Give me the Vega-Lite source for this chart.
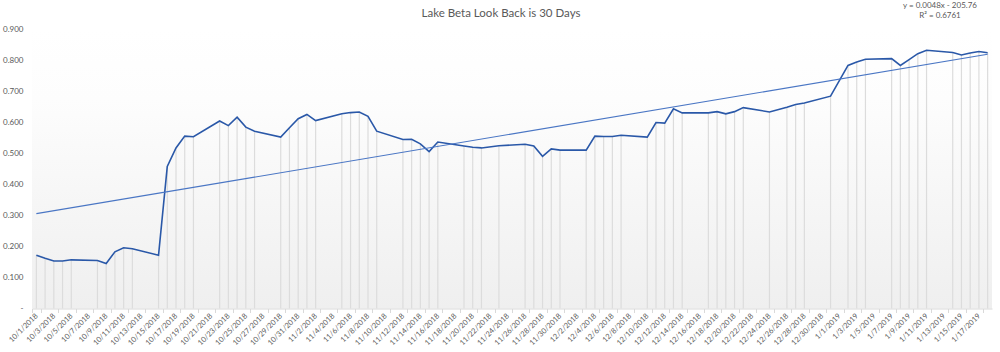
{
  "$schema": "https://vega.github.io/schema/vega-lite/v6.json",
  "autosize": "none",
  "width": 960,
  "height": 279,
  "padding": {"left": 32, "top": 29.5, "right": 8, "bottom": 43.5},
  "title": {"text": "Lake Beta Look Back is 30 Days", "fontSize": 11.5, "fontWeight": "normal", "color": "#595959", "font": "Lato", "anchor": "middle", "frame": "group", "offset": -17, "dx": -11},
  "config": {
    "font": "Lato",
    "view": {"stroke": null, "fill": {"gradient": "linear", "x1": 0, "y1": 0, "x2": 0, "y2": 1, "stops": [{"offset": 0, "color": "#ffffff"}, {"offset": 0.25, "color": "#fdfdfd"}, {"offset": 1, "color": "#efefef"}]}}
  },
  "datasets": {
    "beta": [
      {"date": "10/1/2018", "value": 0.172}, {"date": "10/2/2018", "value": 0.162}, {"date": "10/3/2018", "value": 0.153}, {"date": "10/4/2018", "value": 0.153}, {"date": "10/5/2018", "value": 0.157},
      {"date": "10/8/2018", "value": 0.155}, {"date": "10/9/2018", "value": 0.145}, {"date": "10/10/2018", "value": 0.183}, {"date": "10/11/2018", "value": 0.196}, {"date": "10/12/2018", "value": 0.193},
      {"date": "10/15/2018", "value": 0.172}, {"date": "10/16/2018", "value": 0.458}, {"date": "10/17/2018", "value": 0.518}, {"date": "10/18/2018", "value": 0.556}, {"date": "10/19/2018", "value": 0.554},
      {"date": "10/22/2018", "value": 0.605}, {"date": "10/23/2018", "value": 0.590}, {"date": "10/24/2018", "value": 0.617}, {"date": "10/25/2018", "value": 0.585}, {"date": "10/26/2018", "value": 0.572},
      {"date": "10/29/2018", "value": 0.553}, {"date": "10/30/2018", "value": 0.583}, {"date": "10/31/2018", "value": 0.612}, {"date": "11/1/2018", "value": 0.626}, {"date": "11/2/2018", "value": 0.606},
      {"date": "11/5/2018", "value": 0.628}, {"date": "11/6/2018", "value": 0.632}, {"date": "11/7/2018", "value": 0.634}, {"date": "11/8/2018", "value": 0.620}, {"date": "11/9/2018", "value": 0.572},
      {"date": "11/12/2018", "value": 0.545}, {"date": "11/13/2018", "value": 0.546}, {"date": "11/14/2018", "value": 0.531}, {"date": "11/15/2018", "value": 0.506}, {"date": "11/16/2018", "value": 0.537},
      {"date": "11/19/2018", "value": 0.524}, {"date": "11/20/2018", "value": 0.520}, {"date": "11/21/2018", "value": 0.518}, {"date": "11/23/2018", "value": 0.525},
      {"date": "11/26/2018", "value": 0.530}, {"date": "11/27/2018", "value": 0.524}, {"date": "11/28/2018", "value": 0.491}, {"date": "11/29/2018", "value": 0.515}, {"date": "11/30/2018", "value": 0.511},
      {"date": "12/3/2018", "value": 0.511}, {"date": "12/4/2018", "value": 0.556}, {"date": "12/5/2018", "value": 0.555}, {"date": "12/6/2018", "value": 0.555}, {"date": "12/7/2018", "value": 0.559},
      {"date": "12/10/2018", "value": 0.553}, {"date": "12/11/2018", "value": 0.600}, {"date": "12/12/2018", "value": 0.598}, {"date": "12/13/2018", "value": 0.644}, {"date": "12/14/2018", "value": 0.631},
      {"date": "12/17/2018", "value": 0.631}, {"date": "12/18/2018", "value": 0.635}, {"date": "12/19/2018", "value": 0.628}, {"date": "12/20/2018", "value": 0.635}, {"date": "12/21/2018", "value": 0.648},
      {"date": "12/24/2018", "value": 0.634}, {"date": "12/26/2018", "value": 0.649}, {"date": "12/27/2018", "value": 0.658}, {"date": "12/28/2018", "value": 0.663},
      {"date": "12/31/2018", "value": 0.685}, {"date": "1/2/2019", "value": 0.784}, {"date": "1/3/2019", "value": 0.795}, {"date": "1/4/2019", "value": 0.804},
      {"date": "1/7/2019", "value": 0.806}, {"date": "1/8/2019", "value": 0.784}, {"date": "1/9/2019", "value": 0.803}, {"date": "1/10/2019", "value": 0.822}, {"date": "1/11/2019", "value": 0.833},
      {"date": "1/14/2019", "value": 0.826}, {"date": "1/15/2019", "value": 0.818}, {"date": "1/16/2019", "value": 0.824}, {"date": "1/17/2019", "value": 0.829}, {"date": "1/18/2019", "value": 0.825}
    ],
    "trend": [
      {"date": "10/1/2018", "value": 0.306},
      {"date": "1/18/2019", "value": 0.820}
    ],
    "note": [
      {"date": "1/13/2019", "value": 0.975, "label": "y = 0.0048x - 205.76\nR² = 0.6761"}
    ]
  },
  "encoding": {
    "x": {
      "field": "date",
      "type": "ordinal",
      "scale": {
        "type": "band",
        "paddingInner": 0,
        "paddingOuter": 0,
        "domain": [
          "10/1/2018","10/2/2018","10/3/2018","10/4/2018","10/5/2018","10/6/2018","10/7/2018","10/8/2018","10/9/2018","10/10/2018",
          "10/11/2018","10/12/2018","10/13/2018","10/14/2018","10/15/2018","10/16/2018","10/17/2018","10/18/2018","10/19/2018","10/20/2018",
          "10/21/2018","10/22/2018","10/23/2018","10/24/2018","10/25/2018","10/26/2018","10/27/2018","10/28/2018","10/29/2018","10/30/2018","10/31/2018",
          "11/1/2018","11/2/2018","11/3/2018","11/4/2018","11/5/2018","11/6/2018","11/7/2018","11/8/2018","11/9/2018","11/10/2018",
          "11/11/2018","11/12/2018","11/13/2018","11/14/2018","11/15/2018","11/16/2018","11/17/2018","11/18/2018","11/19/2018","11/20/2018",
          "11/21/2018","11/22/2018","11/23/2018","11/24/2018","11/25/2018","11/26/2018","11/27/2018","11/28/2018","11/29/2018","11/30/2018",
          "12/1/2018","12/2/2018","12/3/2018","12/4/2018","12/5/2018","12/6/2018","12/7/2018","12/8/2018","12/9/2018","12/10/2018",
          "12/11/2018","12/12/2018","12/13/2018","12/14/2018","12/15/2018","12/16/2018","12/17/2018","12/18/2018","12/19/2018","12/20/2018",
          "12/21/2018","12/22/2018","12/23/2018","12/24/2018","12/25/2018","12/26/2018","12/27/2018","12/28/2018","12/29/2018","12/30/2018","12/31/2018",
          "1/1/2019","1/2/2019","1/3/2019","1/4/2019","1/5/2019","1/6/2019","1/7/2019","1/8/2019","1/9/2019","1/10/2019",
          "1/11/2019","1/12/2019","1/13/2019","1/14/2019","1/15/2019","1/16/2019","1/17/2019","1/18/2019"
        ]
      },
      "axis": {
        "title": null,
        "values": [
          "10/1/2018","10/3/2018","10/5/2018","10/7/2018","10/9/2018","10/11/2018","10/13/2018","10/15/2018","10/17/2018","10/19/2018",
          "10/21/2018","10/23/2018","10/25/2018","10/27/2018","10/29/2018","10/31/2018",
          "11/2/2018","11/4/2018","11/6/2018","11/8/2018","11/10/2018","11/12/2018","11/14/2018","11/16/2018","11/18/2018","11/20/2018",
          "11/22/2018","11/24/2018","11/26/2018","11/28/2018","11/30/2018",
          "12/2/2018","12/4/2018","12/6/2018","12/8/2018","12/10/2018","12/12/2018","12/14/2018","12/16/2018","12/18/2018","12/20/2018",
          "12/22/2018","12/24/2018","12/26/2018","12/28/2018","12/30/2018",
          "1/1/2019","1/3/2019","1/5/2019","1/7/2019","1/9/2019","1/11/2019","1/13/2019","1/15/2019","1/17/2019"
        ],
        "tickBand": "extent",
        "labelAngle": -45,
        "labelAlign": "right",
        "labelBaseline": "middle",
        "labelFontSize": 7.5,
        "labelColor": "#595959",
        "labelPadding": 2,
        "labelOverlap": false,
        "tickSize": 4,
        "tickColor": "#d9d9d9",
        "domainColor": "#d9d9d9",
        "grid": false
      }
    },
    "y": {
      "field": "value",
      "type": "quantitative",
      "scale": {"domain": [0, 0.9], "nice": false, "zero": true},
      "axis": {
        "title": null,
        "values": [0, 0.1, 0.2, 0.3, 0.4, 0.5, 0.6, 0.7, 0.8, 0.9],
        "labelExpr": "datum.value == 0 ? '-\u00a0\u00a0' : format(datum.value, '.3f')",
        "labelOverlap": false,
        "labelFlush": false,
        "domain": false,
        "ticks": false,
        "grid": false,
        "labelFontSize": 8,
        "labelColor": "#595959",
        "labelPadding": 9
      }
    }
  },
  "layer": [
    {
      "data": {"name": "beta"},
      "mark": {"type": "rule", "color": "#dcdcdc", "strokeWidth": 1.2},
      "encoding": {
        "y2": {"datum": 0}
      }
    },
    {
      "data": {"name": "beta"},
      "mark": {"type": "line", "color": "#2a58a8", "strokeWidth": 1.6},
      "encoding": {}
    },
    {
      "data": {"name": "trend"},
      "mark": {"type": "line", "color": "#4a76c4", "strokeWidth": 1.1},
      "encoding": {}
    },
    {
      "data": {"name": "note"},
      "mark": {"type": "text", "align": "center", "baseline": "middle", "fontSize": 8, "color": "#595959", "lineHeight": 10, "dx": -4, "lineBreak": "\n"},
      "encoding": {
        "text": {"field": "label"}
      }
    }
  ]
}
